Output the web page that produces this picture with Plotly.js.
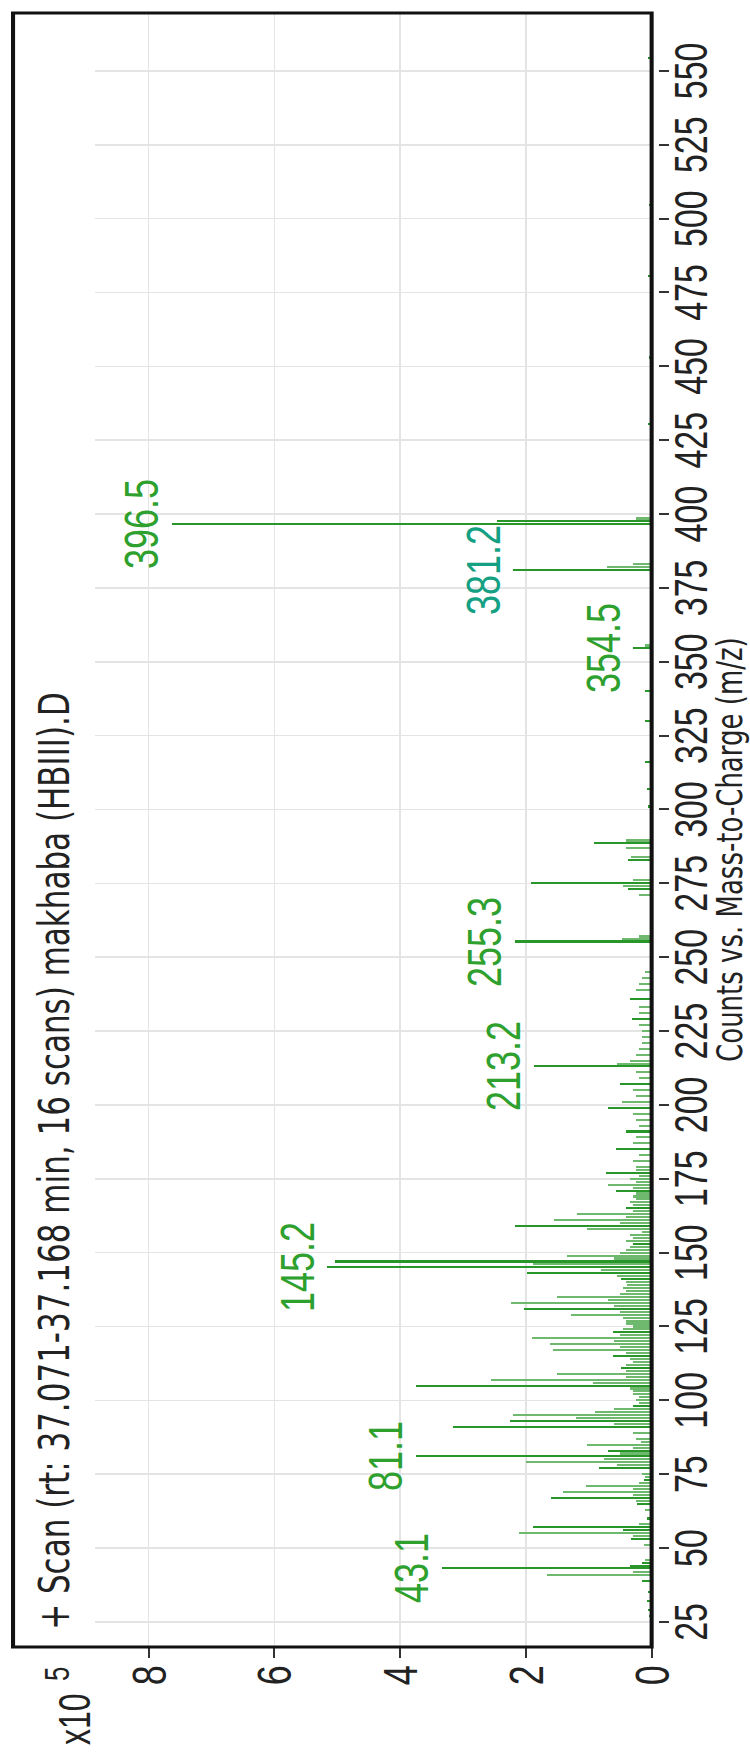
<!DOCTYPE html>
<html>
<head>
<meta charset="utf-8">
<script src="https://cdn.plot.ly/plotly-3.0.1.min.js"></script>
<style>
  html, body { margin:0; padding:0; width:750px; height:1753px; overflow:hidden; background:#fff; }
  #wrap { position:absolute; left:0; top:0; width:1753px; height:552px;
          transform-origin:0 0; transform: translate(0px,1753px) rotate(-90deg) scale(1,1.3587); }
</style>
</head>
<body>
<div id="wrap"><div id="chart"></div></div>
<script>
// m/z (Mass-to-Charge) and Counts (x10^5)
const mzStrong = [27,29,32,35,39,43.1,44,45,53,56,57,60,65,67,73,77,81.1,83,91,93,98,105,111,115,123,131,141,143,145.2,147,153,159,165,171,177,185,191,199,207,213.2,229,236,255.3,273,275,283,288.5,301,307,316,330,340,354.5,381.2,396.5,397.5,430.6,453,480.6,504.6,554.3];
const countsStrong = [0.04,0.06,0.07,0.05,0.15,3.33,0.35,0.15,0.33,0.45,1.88,0.08,0.24,1.60,0.12,0.83,3.75,0.70,3.16,2.26,0.30,3.75,0.49,0.62,0.62,2.03,0.49,1.98,5.16,5.03,0.30,2.18,0.40,0.56,0.73,0.56,0.40,0.70,0.50,1.87,0.31,0.35,2.17,0.37,1.92,0.37,0.92,0.05,0.08,0.10,0.10,0.10,0.29,2.20,7.63,2.46,0.06,0.04,0.06,0.04,0.05];

const mzLight = [41,42,46,51,54,55,58,63,66,68,69,70,71,72,74,75,78,79,80,82,84,85,86,87,89,92,94,95,96,97,99,100,101,102,103,104,106,107,108,109,110,112,113,114,116,117,118,119,120,121,122,124,125,126,127,128,129,130,132,133,134,135,136,137,138,139,140,142,144,146,148,149,150,151,152,154,155,156,157,158,160,161,162,163,164,166,167,168,169,170,172,173,174,175,176,178,179,181,183,187,189,193,195,197,201,203,205,209,211,214,215,217,219,221,223,225,227,231,233,239,241,243,245,256,257,271,274,276,284,287,289.5,355.5,382.2,383.2,398.5];
const countsLight = [1.67,0.30,0.10,0.12,0.30,2.11,0.20,0.10,0.25,0.30,1.41,0.30,1.05,0.20,0.10,0.15,0.55,2.00,0.75,0.50,0.30,1.02,0.17,0.25,0.30,0.60,1.20,2.20,0.90,0.60,0.20,0.25,0.20,0.30,0.30,0.35,0.94,2.56,0.40,1.50,0.40,0.40,0.30,0.35,0.40,1.57,0.50,1.61,0.60,1.91,0.50,0.45,0.30,0.40,0.40,0.45,1.28,0.50,0.60,2.23,0.70,1.50,0.50,0.40,0.45,0.39,0.40,0.55,0.81,1.88,0.60,1.34,0.50,0.40,0.35,0.40,0.30,0.35,0.15,1.02,0.50,1.56,0.40,1.18,0.30,0.30,0.35,0.25,0.30,0.25,0.30,0.70,0.25,0.35,0.20,0.25,0.25,0.30,0.20,0.30,0.25,0.20,0.25,0.30,0.47,0.25,0.30,0.20,0.25,0.55,0.35,0.25,0.20,0.15,0.15,0.15,0.20,0.20,0.20,0.25,0.20,0.15,0.10,0.47,0.20,0.20,0.45,0.30,0.33,0.40,0.40,0.10,0.71,0.30,0.25];

const labelMz = [43.1,81.1,145.2,213.2,255.3,354.5,381.2,396.5];
const mzTicks = [25,50,75,100,125,150,175,200,225,250,275,300,325,350,375,400,425,450,475,500,525,550];
const countTicks = [0,2,4,6,8];
const titleText = '+ Scan (rt: 37.071-37.168 min, 16 scans) makhaba (HBIII).D';
const xTitle = 'Counts vs. Mass-to-Charge (m/z)';

const FONT = 'Liberation Sans, Arial, sans-serif';
const WIDE = 'DejaVu Sans, Verdana, sans-serif';
const GREEN = 'rgb(40,150,40)';
const LIGHT = 'rgb(110,185,110)';

const traces = [
  { type:'bar', x: mzLight, y: countsLight, width:0.7, marker:{color:LIGHT, line:{width:0}}, hoverinfo:'skip' },
  { type:'bar', x: mzStrong, y: countsStrong, width:0.7, marker:{color:GREEN, line:{width:0}}, hoverinfo:'skip' }
];

const annotations = labelMz.map(m => {
  const i = mzStrong.indexOf(m);
  return { x:m, y:countsStrong[i], xref:'x', yref:'y', text:String(m), showarrow:false,
           xanchor:'center', yanchor:'bottom', yshift:0,
           font:{family:FONT, size:36, color: m===381.2 ? 'rgb(20,160,130)' : 'rgb(45,160,45)'} };
});
// plot box: width 1634, height 414, paper bottom at 484px
annotations.push({ x:15/1634, y:(484-59.7)/414, xref:'paper', yref:'paper', text:titleText, showarrow:false,
  xanchor:'left', yanchor:'bottom', font:{family:WIDE, size:31, color:'#222'} });
annotations.push({ x:-100/1634, y:(484-75)/414, xref:'paper', yref:'paper', text:'x10', showarrow:false,
  xanchor:'left', yanchor:'bottom', font:{family:FONT, size:32, color:'#222'} });
annotations.push({ x:-36/1634, y:(484-59)/414, xref:'paper', yref:'paper', text:'5', showarrow:false,
  xanchor:'left', yanchor:'bottom', font:{family:FONT, size:26, color:'#222'} });
annotations.push({ x:0.488, y:(484-553.5)/414, xref:'paper', yref:'paper', text:xTitle, showarrow:false,
  xanchor:'center', yanchor:'bottom', font:{family:WIDE, size:26, color:'#222'} });

const d = 4.4/414;
const layout = {
  width:1753, height:552,
  margin:{l:106, r:13, t:70, b:68},
  paper_bgcolor:'#fff', plot_bgcolor:'#fff',
  showlegend:false, bargap:0, barmode:'overlay',
  font:{family:FONT, color:'#222'},
  xaxis:{ range:[16.5,569.6], tickvals:mzTicks, ticks:'outside', ticklen:7.4, tickwidth:2, tickcolor:'#333',
          ticklabelstandoff:-13,
          showgrid:true, gridcolor:'rgb(228,228,228)', gridwidth:1.5, zeroline:false, showline:false,
          anchor:'free', position:0, tickfont:{family:FONT, size:34, color:'#222'}, fixedrange:true },
  yaxis:{ domain:[d,1], range:[0,8.85], tickvals:countTicks, ticks:'outside', ticklen:10, tickwidth:1.5, tickcolor:'#333',
          showgrid:true, gridcolor:'rgb(228,228,228)', gridwidth:1.2, zeroline:false, showline:false,
          tickfont:{family:FONT, size:36, color:'#222'}, fixedrange:true },
  shapes:[{ type:'rect', xref:'paper', yref:'paper', x0:0, x1:1, y0:d, y1:(484-9.6)/414,
            line:{color:'#111', width:3}, layer:'above' }],
  annotations: annotations
};
Plotly.newPlot('chart', traces, layout, {displayModeBar:false, staticPlot:true});
</script>
</body>
</html>
